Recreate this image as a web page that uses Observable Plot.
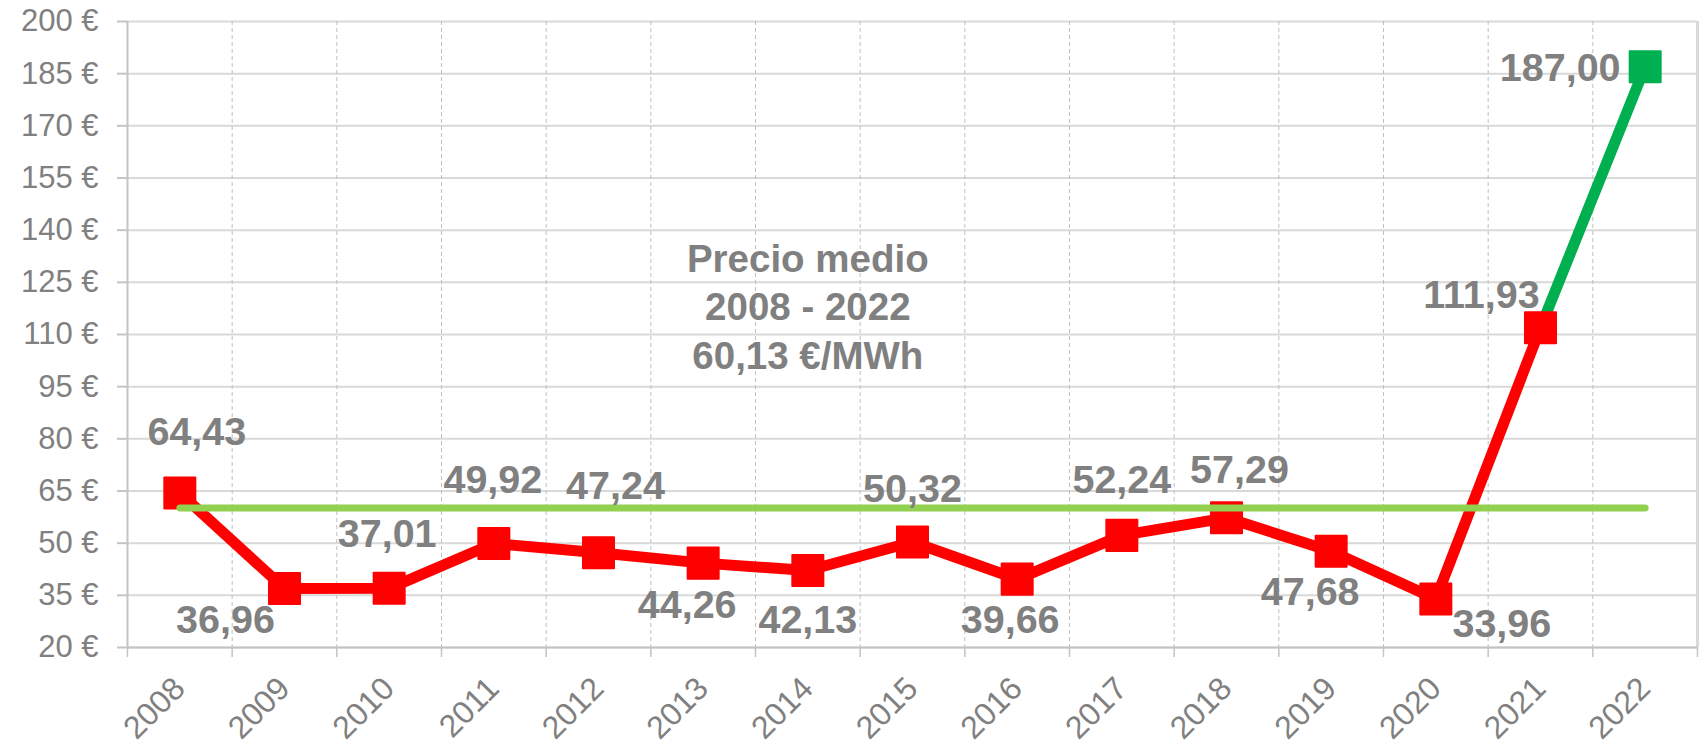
<!DOCTYPE html>
<html>
<head>
<meta charset="utf-8">
<script src="https://cdn.jsdelivr.net/npm/d3@7"></script>
<script src="https://cdn.jsdelivr.net/npm/@observablehq/plot@0.6"></script>
<style>
  html, body { margin: 0; padding: 0; background: #fff; }
  #chart svg { display: block; }
</style>
</head>
<body>
<div id="chart"></div>
<script>
// ---- Data ----
const years = [2008, 2009, 2010, 2011, 2012, 2013, 2014, 2015, 2016, 2017, 2018, 2019, 2020, 2021, 2022];
const prices = [64.43, 36.96, 37.01, 49.92, 47.24, 44.26, 42.13, 50.32, 39.66, 52.24, 57.29, 47.68, 33.96, 111.93, 187.00];
const averagePrice = 60.13;
const yTicks = [20, 35, 50, 65, 80, 95, 110, 125, 140, 155, 170, 185, 200];
const averageTitle = "Precio medio";

// ---- Label placement (screen offsets, px) ----
const labelOffsets = {
  2008: [17, -48], 2009: [-59, 44], 2010: [-2, -41], 2011: [-1, -50],
  2012: [17, -54], 2013: [-16, 55], 2014: [0, 62], 2015: [0, -40],
  2016: [-7, 54], 2017: [0, -42], 2018: [13, -35], 2019: [-21, 54],
  2020: [66, 38], 2021: [-59, -20], 2022: [-85, 14]
};
const annotationAt = {year: 2014, value: 100.2};

// ---- Styles ----
const RED = "#ff0000", GREEN = "#00b050", AVG = "#92d050", GRAY_TEXT = "#808080";
const FONT = "'Liberation Sans', Arial, Helvetica, sans-serif";

const fmt = v => v.toFixed(2).replace(".", ",");
const rows = years.map((year, i) => ({year, price: prices[i]}));
const historical = rows.slice(0, -1);
const forecast = rows.slice(-2);
const boundaries = [years[0] - 0.5, ...years.map(y => y + 0.5)];
const avgRows = [{year: years[0], price: averagePrice}, {year: years[years.length - 1], price: averagePrice}];
const annotation = `${averageTitle}\n${years[0]} - ${years[years.length - 1]}\n${fmt(averagePrice)} €/MWh`;

const labelMarks = rows.map(r => Plot.text([r], {
  x: "year", y: "price", text: d => fmt(d.price),
  dx: labelOffsets[r.year][0], dy: labelOffsets[r.year][1],
  lineAnchor: "bottom", textAnchor: "middle",
  fontSize: 39.5, fontWeight: "bold", fill: GRAY_TEXT
}));

const chart = Plot.plot({
  width: 1702,
  height: 747,
  marginLeft: 127,
  marginRight: 5,
  marginTop: 21,
  marginBottom: 100,
  style: {fontFamily: FONT, background: "#fff", overflow: "visible"},
  x: {type: "linear", domain: [boundaries[0], boundaries[boundaries.length - 1]]},
  y: {type: "linear", domain: [yTicks[0], yTicks[yTicks.length - 1]]},
  marks: [
    Plot.gridY({ticks: yTicks, stroke: "#d9d9d9", strokeOpacity: 1, strokeWidth: 2}),
    Plot.gridX({ticks: boundaries.slice(1, -1), stroke: "#bfbfbf", strokeOpacity: 1, strokeWidth: 1, strokeDasharray: "4,3"}),
    Plot.ruleX([boundaries[boundaries.length - 1]], {stroke: "#d9d9d9", strokeWidth: 3}),
    Plot.ruleX([boundaries[0]], {stroke: "#c4c4c4", strokeWidth: 2}),
    Plot.ruleY([yTicks[0]], {stroke: "#c4c4c4", strokeWidth: 2}),
    Plot.axisY({ticks: yTicks, tickFormat: d => `${d} €`, tickSize: 10, tickPadding: 19,
      fontSize: 31, fill: GRAY_TEXT, stroke: "#c4c4c4", strokeWidth: 2, label: null}),
    Plot.axisX({ticks: boundaries, tickFormat: () => "", tickSize: 10, stroke: "#c4c4c4",
      strokeWidth: 1.5, label: null}),
    Plot.text(years, {x: d => d, frameAnchor: "bottom", text: d => String(d), rotate: -45,
      textAnchor: "end", lineAnchor: "bottom", dx: 7, dy: 43, fontSize: 32, fill: GRAY_TEXT}),
    Plot.line(historical, {x: "year", y: "price", stroke: RED, strokeWidth: 11, strokeLinejoin: "round"}),
    Plot.line(forecast, {x: "year", y: "price", stroke: GREEN, strokeWidth: 11, strokeLinejoin: "round"}),
    Plot.dot(historical, {x: "year", y: "price", symbol: "square", r: 17.5, fill: RED, stroke: RED,
      strokeWidth: 2, strokeLinejoin: "round"}),
    Plot.dot(rows.slice(-1), {x: "year", y: "price", symbol: "square", r: 17.5, fill: GREEN, stroke: GREEN,
      strokeWidth: 2, strokeLinejoin: "round"}),
    Plot.line(avgRows, {x: "year", y: "price", stroke: AVG, strokeWidth: 7, strokeLinecap: "round"}),
    ...labelMarks,
    Plot.text([annotation], {x: () => annotationAt.year, y: () => annotationAt.value, text: d => d,
      lineAnchor: "bottom", lineHeight: 1.25, textAnchor: "middle",
      fontSize: 38.5, fontWeight: "bold", fill: GRAY_TEXT})
  ]
});
document.getElementById("chart").appendChild(chart);
</script>
</body>
</html>
